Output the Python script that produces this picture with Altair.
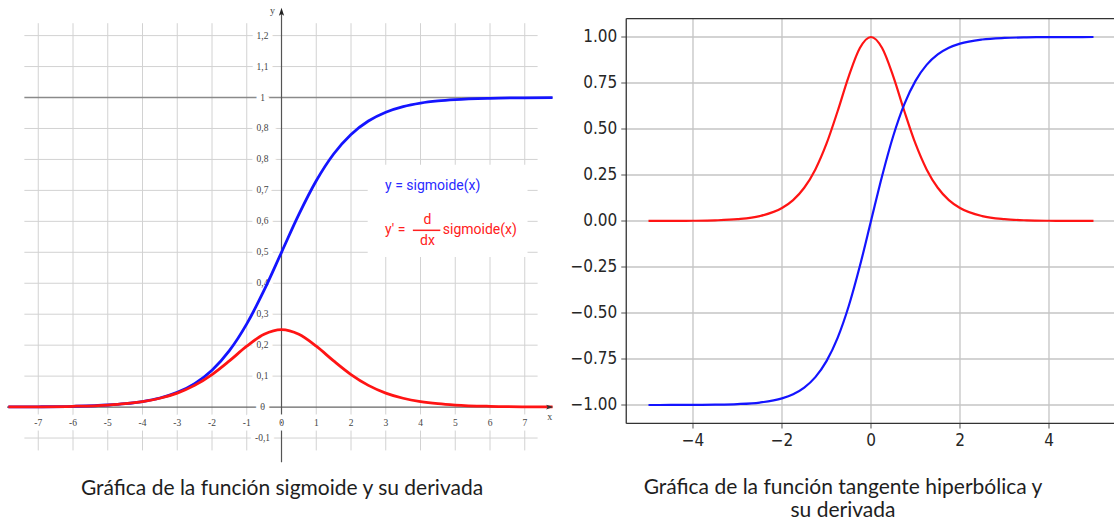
import altair as alt
import pandas as pd

# ---------------- data ----------------
sig_x = [-7.86, -7, -6, -5, -4.5, -4, -3.5, -3, -2.5, -2, -1.5, -1, -0.5, 0,
         0.5, 1, 1.5, 2, 2.5, 3, 3.5, 4, 4.5, 5, 6, 7, 7.8]
sig_y = [0.0004, 0.0009, 0.0025, 0.0067, 0.011, 0.018, 0.0293, 0.0474, 0.0759, 0.1192,
         0.1824, 0.2689, 0.3775, 0.5, 0.6225, 0.7311, 0.8176, 0.8808, 0.9241, 0.9526,
         0.9707, 0.982, 0.989, 0.9933, 0.9975, 0.9991, 0.9996]
dsig_y = [0.0004, 0.0009, 0.0025, 0.0066, 0.0109, 0.0177, 0.0285, 0.0452, 0.0701, 0.105,
          0.1491, 0.1966, 0.235, 0.25, 0.235, 0.1966, 0.1491, 0.105, 0.0701, 0.0452,
          0.0285, 0.0177, 0.0109, 0.0066, 0.0025, 0.0009, 0.0004]

tanh_x = [-5, -4.5, -4, -3.5, -3, -2.5, -2, -1.75, -1.5, -1.25, -1, -0.75, -0.5, -0.25, 0,
          0.25, 0.5, 0.75, 1, 1.25, 1.5, 1.75, 2, 2.5, 3, 3.5, 4, 4.5, 5]
tanh_y = [-0.9999, -0.9998, -0.9993, -0.9982, -0.9951, -0.9866, -0.964, -0.9414, -0.9051,
          -0.8483, -0.7616, -0.6351, -0.4621, -0.2449, 0, 0.2449, 0.4621, 0.6351, 0.7616,
          0.8483, 0.9051, 0.9414, 0.964, 0.9866, 0.9951, 0.9982, 0.9993, 0.9998, 0.9999]
dtanh_y = [0.0002, 0.0005, 0.0013, 0.0036, 0.0099, 0.0266, 0.0707, 0.1138, 0.1807, 0.2805,
           0.42, 0.5966, 0.7864, 0.94, 1.0, 0.94, 0.7864, 0.5966, 0.42, 0.2805, 0.1807,
           0.1138, 0.0707, 0.0266, 0.0099, 0.0036, 0.0013, 0.0005, 0.0002]

left_xticks = [-7, -6, -5, -4, -3, -2, -1, 0, 1, 2, 3, 4, 5, 6, 7]
left_xlabels = ["-7", "-6", "-5", "-4", "-3", "-2", "-1", "0", "1", "2", "3", "4", "5", "6", "7"]
left_yticks = [-0.1, 0, 0.1, 0.2, 0.3, 0.4, 0.5, 0.6, 0.7, 0.8, 0.9, 1.0, 1.1, 1.2]
left_ylabels = ["-0,1", "0", "0,1", "0,2", "0,3", "0,4", "0,5", "0,6", "0,7", "0,8", "0,8",
                "1", "1,1", "1,2"]
left_vgrid = [-7, -6, -5, -4, -3, -2, -1, 1, 2, 3, 4, 5, 6, 7]
left_hgrid = [-0.1, 0.1, 0.2, 0.3, 0.4, 0.5, 0.6, 0.7, 0.8, 0.9, 1.1, 1.2]

right_xticks = [-4, -2, 0, 2, 4]
right_xlabels = ["\u22124", "\u22122", "0", "2", "4"]
right_yticks = [-1, -0.75, -0.5, -0.25, 0, 0.25, 0.5, 0.75, 1]
right_ylabels = ["\u22121.00", "\u22120.75", "\u22120.50", "\u22120.25", "0.00", "0.25",
                 "0.50", "0.75", "1.00"]

legend_blue = "y = sigmoide(x)"
legend_red_a = "y' ="
legend_red_d = "d"
legend_red_dx = "dx"
legend_red_b = "sigmoide(x)"
caption_left = "Gráfica de la función sigmoide y su derivada"
caption_right_1 = "Gráfica de la función tangente hiperbólica y"
caption_right_2 = "su derivada"

# ---------------- styles ----------------
BLUE = "#1414ff"
RED = "#ff1414"
SERIF = "Liberation Serif"
COND = "DejaVu Sans Condensed, Liberation Sans Narrow, DejaVu Sans"
CAPFONT = "Lato"
CAPSIZE = 21

one = pd.DataFrame({"a": [0]})

# ---------------- left panel ----------------
LW, LH = 570, 521
xs = alt.Scale(domain=[-8.101, 8.302], nice=False, zero=False)
ys = alt.Scale(domain=[-0.368, 1.315], nice=False, zero=False)


def X(f):
    return alt.X(f, type="quantitative", scale=xs, axis=None)


def Y(f):
    return alt.Y(f, type="quantitative", scale=ys, axis=None)


def txt(text, x, y, **kw):
    return alt.Chart(one).mark_text(text=text, **kw).encode(x=alt.datum(x), y=alt.datum(y))


sig_df = pd.DataFrame({"x": sig_x, "s": sig_y, "d": dsig_y})

vgrid = alt.Chart(pd.DataFrame({"gx": left_vgrid})).mark_rule(color="#d2d2d2", strokeWidth=1).encode(
    x=X("gx"), y=alt.datum(-0.14), y2=alt.datum(1.24))
hgrid = alt.Chart(pd.DataFrame({"gy": left_hgrid})).mark_rule(color="#d2d2d2", strokeWidth=1).encode(
    y=Y("gy"), x=alt.datum(-7.4), x2=alt.datum(7.37))
one_line = alt.Chart(one).mark_rule(color="#8a8a8a", strokeWidth=1.6).encode(
    y=alt.datum(1.0), x=alt.datum(-7.4), x2=alt.datum(7.8))
xaxis = alt.Chart(one).mark_rule(color="#666666", strokeWidth=1.2).encode(
    y=alt.datum(0), x=alt.datum(-7.9), x2=alt.datum(7.65))
yaxis = alt.Chart(one).mark_rule(color="#555555", strokeWidth=1.2).encode(
    x=alt.datum(0), y=alt.datum(-0.178), y2=alt.datum(1.27))

xl_df = pd.DataFrame({"v": left_xticks, "t": left_xlabels})
yl_df = pd.DataFrame({"v": left_yticks, "t": left_ylabels})


def xlab(halo):
    kw = dict(stroke="white", strokeWidth=9, fill="white") if halo else dict(color="#444444")
    return alt.Chart(xl_df).mark_text(font=SERIF, fontSize=9.5, baseline="middle", align="center",
                                      dy=16, **kw).encode(x=X("v"), y=alt.datum(0), text="t:N")


def ylab(halo):
    kw = dict(stroke="white", strokeWidth=9, fill="white") if halo else dict(color="#444444")
    return alt.Chart(yl_df).mark_text(font=SERIF, fontSize=9.5, baseline="middle", align="center",
                                      dx=-19, **kw).encode(x=alt.datum(0), y=Y("v"), text="t:N")


name_y = txt("y", 0, 1.27, font=SERIF, fontSize=10, color="#444444", align="center",
             baseline="middle", dx=-9, dy=-3)
name_x = txt("x", 7.72, 0, font=SERIF, fontSize=10, color="#444444", align="center",
             baseline="middle", dy=10)

arrow_up = alt.Chart(one).mark_point(shape="M0,-1L0.55,0.7L0,0.35L-0.55,0.7Z", filled=True,
                                     color="#222222", size=90, opacity=1).encode(
    x=alt.datum(0), y=alt.datum(1.275))
arrow_right = alt.Chart(one).mark_point(shape="M1,0L-0.7,0.55L-0.35,0L-0.7,-0.55Z", filled=True,
                                        color="#333333", size=70, opacity=1).encode(
    x=alt.datum(7.7), y=alt.datum(0))

sig_line = alt.Chart(sig_df).mark_line(color=BLUE, strokeWidth=2.8, interpolate="monotone").encode(
    x=X("x"), y=Y("s"))
dsig_line = alt.Chart(sig_df).mark_line(color=RED, strokeWidth=2.8, interpolate="monotone").encode(
    x=X("x"), y=Y("d"))

legend_box = alt.Chart(one).mark_rect(fill="white").encode(
    x=alt.datum(2.48), x2=alt.datum(7.08), y=alt.datum(0.485), y2=alt.datum(0.783))
LEGKW = dict(font="Roboto", fontSize=14, baseline="middle")
leg_blue = txt(legend_blue, 2.98, 0.713, color="#2a2aff", align="left", **LEGKW)
leg_ra = txt(legend_red_a, 2.98, 0.573, color="#ff2020", align="left", **LEGKW)
leg_rd = txt(legend_red_d, 4.2, 0.605, color="#ff2020", align="center", **LEGKW)
leg_rdx = txt(legend_red_dx, 4.2, 0.537, color="#ff2020", align="center", **LEGKW)
leg_rb = txt(legend_red_b, 4.64, 0.573, color="#ff2020", align="left", **LEGKW)
frac_bar = alt.Chart(one).mark_rule(color="#ff2020", strokeWidth=1.5).encode(
    x=alt.datum(3.78), x2=alt.datum(4.57), y=alt.datum(0.571))

cap_left = alt.Chart(one).mark_text(text=caption_left, font=CAPFONT, fontSize=CAPSIZE, color="#1e1e1e",
                                    align="center", baseline="middle").encode(
    x=alt.value(282), y=alt.value(489))

left = alt.layer(vgrid, hgrid, one_line, xaxis, yaxis, xlab(True), ylab(True), xlab(False), ylab(False),
                 name_y, name_x, sig_line, dsig_line, legend_box, leg_blue, leg_ra, leg_rd, leg_rdx,
                 leg_rb, frac_bar, arrow_up, arrow_right, cap_left).properties(width=LW, height=LH)

# ---------------- right panel ----------------
RW, RH = 544, 521
xs2 = alt.Scale(domain=[-6.764, 5.461], nice=False, zero=False)
ys2 = alt.Scale(domain=[-1.6304, 1.2011], nice=False, zero=False)


def X2(f):
    return alt.X(f, type="quantitative", scale=xs2, axis=None)


def Y2(f):
    return alt.Y(f, type="quantitative", scale=ys2, axis=None)


tanh_df = pd.DataFrame({"x": tanh_x, "t": tanh_y, "d": dtanh_y})

rv = alt.Chart(pd.DataFrame({"v": right_xticks})).mark_rule(color="#c4c4c4", strokeWidth=1.3).encode(
    x=X2("v"), y=alt.datum(-1.1), y2=alt.datum(1.1))
rh = alt.Chart(pd.DataFrame({"v": right_yticks})).mark_rule(color="#c4c4c4", strokeWidth=1.3, clip=True).encode(
    y=Y2("v"), x=alt.datum(-5.5), x2=alt.datum(5.5))
frame_l = alt.Chart(one).mark_rule(color="#333333", strokeWidth=1.3).encode(
    x=alt.datum(-5.5), y=alt.datum(-1.1), y2=alt.datum(1.1))
frame_tb = alt.Chart(pd.DataFrame({"v": [-1.1, 1.1]})).mark_rule(color="#333333", strokeWidth=1.3, clip=True).encode(
    y=Y2("v"), x=alt.datum(-5.5), x2=alt.datum(5.5))
yt = alt.Chart(pd.DataFrame({"v": right_yticks})).mark_tick(orient="horizontal", color="#333333",
                                                             thickness=1.2, size=5, xOffset=-2.5).encode(
    y=Y2("v"), x=alt.datum(-5.5))
xt = alt.Chart(pd.DataFrame({"v": right_xticks})).mark_tick(orient="vertical", color="#333333",
                                                             thickness=1.2, size=5, yOffset=2.5).encode(
    x=X2("v"), y=alt.datum(-1.1))
ylab2 = alt.Chart(pd.DataFrame({"v": right_yticks, "t": right_ylabels})).mark_text(
    font=COND, fontSize=17, color="#262626", align="right", baseline="middle", dx=-9).encode(
    y=Y2("v"), x=alt.datum(-5.5), text="t:N")
xlab2 = alt.Chart(pd.DataFrame({"v": right_xticks, "t": right_xlabels})).mark_text(
    font=COND, fontSize=17, color="#262626", align="center", baseline="top", dy=10).encode(
    x=X2("v"), y=alt.datum(-1.1), text="t:N")
tanh_line = alt.Chart(tanh_df).mark_line(color=BLUE, strokeWidth=2.2, interpolate="monotone").encode(
    x=X2("x"), y=Y2("t"))
dtanh_line = alt.Chart(tanh_df).mark_line(color=RED, strokeWidth=2.2, interpolate="monotone").encode(
    x=X2("x"), y=Y2("d"))
cap_r1 = alt.Chart(one).mark_text(text=caption_right_1, font=CAPFONT, fontSize=CAPSIZE, color="#1e1e1e",
                                  align="center", baseline="middle").encode(
    x=alt.value(273), y=alt.value(488))
cap_r2 = alt.Chart(one).mark_text(text=caption_right_2, font=CAPFONT, fontSize=CAPSIZE, color="#1e1e1e",
                                  align="center", baseline="middle").encode(
    x=alt.value(273), y=alt.value(511))

right = alt.layer(rv, rh, frame_l, frame_tb, yt, xt, ylab2, xlab2, dtanh_line, tanh_line,
                  cap_r1, cap_r2).properties(width=RW, height=RH)

chart = alt.hconcat(left, right, spacing=0).properties(
    padding=0, background="white"
).configure_view(stroke=None).configure_axis(disable=True)

chart.save("out.html", embed_options={"renderer": "svg", "actions": False})
